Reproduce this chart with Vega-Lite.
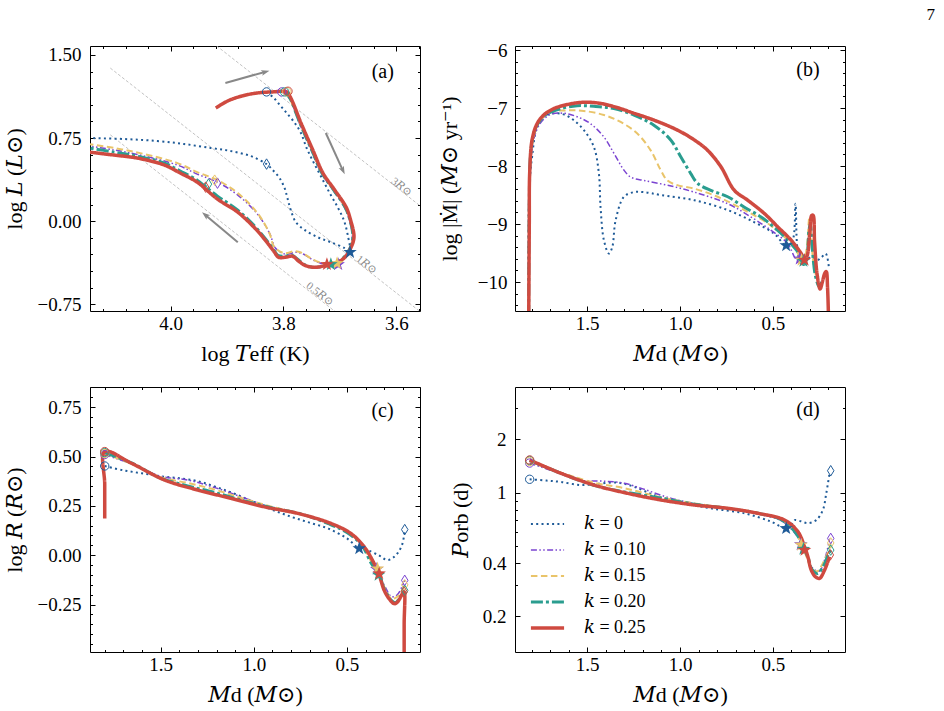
{
"$schema":"https://vega.github.io/schema/vega-lite/v6.json",
"background":"white",
"padding":{"left":2,"top":5,"right":5,"bottom":5},
"title":{"text":"7","anchor":"end","frame":"group","fontSize":17,"font":"Liberation Serif","fontWeight":"normal","color":"black","dx":845,"offset":17},
"columns":2,
"spacing":{"row":76,"column":95},
"bounds":"flush",
"resolve":{"scale":{"color":"independent","strokeDash":"independent","strokeWidth":"independent"},"legend":{"color":"independent","strokeDash":"independent","strokeWidth":"independent"}},
"datasets":{
"rad":[{"R":"3","i":0,"x":4.107,"y":2.335},{"R":"3","i":1,"x":3.55,"y":0.107},{"R":"1","i":0,"x":4.107,"y":1.381},{"R":"1","i":1,"x":3.55,"y":-0.847},{"R":"0.5","i":0,"x":4.107,"y":0.779},{"R":"0.5","i":1,"x":3.55,"y":-1.449}],
"radlab":[{"t":"3𝑅⊙","x":3.591,"y":0.307},{"t":"1𝑅⊙","x":3.653,"y":-0.395},{"t":"0.5𝑅⊙","x":3.736,"y":-0.66}],
"arrows":[{"x":3.903,"y":1.247,"x2":3.833,"y2":1.346,"ang":74},{"x":3.725,"y":0.795,"x2":3.695,"y2":0.461,"ang":155},{"x":3.881,"y":-0.19,"x2":3.938,"y2":0.054,"ang":310}],
"L":[
{"p":"a","k":"0","i":0,"x":3.830,"y":1.166},{"p":"a","k":"0","i":1,"x":3.817,"y":1.111},{"p":"a","k":"0","i":2,"x":3.805,"y":1.039},{"p":"a","k":"0","i":3,"x":3.793,"y":0.967},{"p":"a","k":"0","i":4,"x":3.780,"y":0.886},{"p":"a","k":"0","i":5,"x":3.769,"y":0.795},{"p":"a","k":"0","i":6,"x":3.759,"y":0.660},{"p":"a","k":"0","i":7,"x":3.746,"y":0.524},{"p":"a","k":"0","i":8,"x":3.732,"y":0.389},{"p":"a","k":"0","i":9,"x":3.718,"y":0.253},{"p":"a","k":"0","i":10,"x":3.704,"y":0.127},{"p":"a","k":"0","i":11,"x":3.693,"y":0.009},{"p":"a","k":"0","i":12,"x":3.686,"y":-0.127},{"p":"a","k":"0","i":13,"x":3.682,"y":-0.280},{"p":"a","k":"0","i":14,"x":3.691,"y":-0.244},{"p":"a","k":"0","i":15,"x":3.716,"y":-0.190},{"p":"a","k":"0","i":16,"x":3.739,"y":-0.145},{"p":"a","k":"0","i":17,"x":3.762,"y":-0.081},{"p":"a","k":"0","i":18,"x":3.778,"y":-0.009},{"p":"a","k":"0","i":19,"x":3.787,"y":0.099},{"p":"a","k":"0","i":20,"x":3.793,"y":0.208},{"p":"a","k":"0","i":21,"x":3.798,"y":0.298},{"p":"a","k":"0","i":22,"x":3.807,"y":0.389},{"p":"a","k":"0","i":23,"x":3.819,"y":0.461},{"p":"a","k":"0","i":24,"x":3.830,"y":0.515},{"p":"a","k":"0","i":25,"x":3.858,"y":0.587},{"p":"a","k":"0","i":26,"x":3.894,"y":0.633},{"p":"a","k":"0","i":27,"x":3.929,"y":0.660},{"p":"a","k":"0","i":28,"x":3.976,"y":0.696},{"p":"a","k":"0","i":29,"x":4.024,"y":0.723},{"p":"a","k":"0","i":30,"x":4.082,"y":0.741},{"p":"a","k":"0","i":31,"x":4.145,"y":0.750},
{"p":"a","k":"0.10","i":0,"x":3.803,"y":1.166},{"p":"a","k":"0.10","i":1,"x":3.790,"y":1.111},{"p":"a","k":"0.10","i":2,"x":3.772,"y":0.886},{"p":"a","k":"0.10","i":3,"x":3.751,"y":0.642},{"p":"a","k":"0.10","i":4,"x":3.733,"y":0.434},{"p":"a","k":"0.10","i":5,"x":3.712,"y":0.280},{"p":"a","k":"0.10","i":6,"x":3.692,"y":0.127},{"p":"a","k":"0.10","i":7,"x":3.683,"y":0.009},{"p":"a","k":"0.10","i":8,"x":3.678,"y":-0.145},{"p":"a","k":"0.10","i":9,"x":3.683,"y":-0.244},{"p":"a","k":"0.10","i":10,"x":3.694,"y":-0.334},{"p":"a","k":"0.10","i":11,"x":3.703,"y":-0.389},{"p":"a","k":"0.10","i":12,"x":3.718,"y":-0.389},{"p":"a","k":"0.10","i":13,"x":3.734,"y":-0.380},{"p":"a","k":"0.10","i":14,"x":3.750,"y":-0.343},{"p":"a","k":"0.10","i":15,"x":3.764,"y":-0.298},{"p":"a","k":"0.10","i":16,"x":3.778,"y":-0.280},{"p":"a","k":"0.10","i":17,"x":3.796,"y":-0.298},{"p":"a","k":"0.10","i":18,"x":3.814,"y":-0.244},{"p":"a","k":"0.10","i":19,"x":3.824,"y":-0.117},{"p":"a","k":"0.10","i":20,"x":3.846,"y":0.063},{"p":"a","k":"0.10","i":21,"x":3.881,"y":0.235},{"p":"a","k":"0.10","i":22,"x":3.917,"y":0.352},{"p":"a","k":"0.10","i":23,"x":3.953,"y":0.425},{"p":"a","k":"0.10","i":24,"x":3.988,"y":0.506},{"p":"a","k":"0.10","i":25,"x":4.054,"y":0.596},{"p":"a","k":"0.10","i":26,"x":4.100,"y":0.642},{"p":"a","k":"0.10","i":27,"x":4.145,"y":0.678},
{"p":"a","k":"0.15","i":0,"x":3.794,"y":1.166},{"p":"a","k":"0.15","i":1,"x":3.789,"y":1.111},{"p":"a","k":"0.15","i":2,"x":3.771,"y":0.886},{"p":"a","k":"0.15","i":3,"x":3.750,"y":0.642},{"p":"a","k":"0.15","i":4,"x":3.732,"y":0.434},{"p":"a","k":"0.15","i":5,"x":3.711,"y":0.280},{"p":"a","k":"0.15","i":6,"x":3.691,"y":0.127},{"p":"a","k":"0.15","i":7,"x":3.682,"y":0.009},{"p":"a","k":"0.15","i":8,"x":3.677,"y":-0.145},{"p":"a","k":"0.15","i":9,"x":3.682,"y":-0.244},{"p":"a","k":"0.15","i":10,"x":3.693,"y":-0.325},{"p":"a","k":"0.15","i":11,"x":3.705,"y":-0.380},{"p":"a","k":"0.15","i":12,"x":3.720,"y":-0.380},{"p":"a","k":"0.15","i":13,"x":3.736,"y":-0.370},{"p":"a","k":"0.15","i":14,"x":3.752,"y":-0.334},{"p":"a","k":"0.15","i":15,"x":3.766,"y":-0.289},{"p":"a","k":"0.15","i":16,"x":3.780,"y":-0.271},{"p":"a","k":"0.15","i":17,"x":3.798,"y":-0.289},{"p":"a","k":"0.15","i":18,"x":3.816,"y":-0.235},{"p":"a","k":"0.15","i":19,"x":3.825,"y":-0.108},{"p":"a","k":"0.15","i":20,"x":3.846,"y":0.072},{"p":"a","k":"0.15","i":21,"x":3.881,"y":0.253},{"p":"a","k":"0.15","i":22,"x":3.917,"y":0.370},{"p":"a","k":"0.15","i":23,"x":3.953,"y":0.443},{"p":"a","k":"0.15","i":24,"x":3.988,"y":0.524},{"p":"a","k":"0.15","i":25,"x":4.054,"y":0.614},{"p":"a","k":"0.15","i":26,"x":4.100,"y":0.660},{"p":"a","k":"0.15","i":27,"x":4.145,"y":0.696},
{"p":"a","k":"0.20","i":0,"x":3.798,"y":1.166},{"p":"a","k":"0.20","i":1,"x":3.789,"y":1.111},{"p":"a","k":"0.20","i":2,"x":3.771,"y":0.886},{"p":"a","k":"0.20","i":3,"x":3.750,"y":0.642},{"p":"a","k":"0.20","i":4,"x":3.732,"y":0.434},{"p":"a","k":"0.20","i":5,"x":3.711,"y":0.280},{"p":"a","k":"0.20","i":6,"x":3.691,"y":0.127},{"p":"a","k":"0.20","i":7,"x":3.682,"y":0.009},{"p":"a","k":"0.20","i":8,"x":3.677,"y":-0.145},{"p":"a","k":"0.20","i":9,"x":3.682,"y":-0.244},{"p":"a","k":"0.20","i":10,"x":3.693,"y":-0.325},{"p":"a","k":"0.20","i":11,"x":3.705,"y":-0.371},{"p":"a","k":"0.20","i":12,"x":3.716,"y":-0.389},{"p":"a","k":"0.20","i":13,"x":3.730,"y":-0.407},{"p":"a","k":"0.20","i":14,"x":3.748,"y":-0.416},{"p":"a","k":"0.20","i":15,"x":3.764,"y":-0.389},{"p":"a","k":"0.20","i":16,"x":3.775,"y":-0.343},{"p":"a","k":"0.20","i":17,"x":3.785,"y":-0.307},{"p":"a","k":"0.20","i":18,"x":3.798,"y":-0.316},{"p":"a","k":"0.20","i":19,"x":3.810,"y":-0.307},{"p":"a","k":"0.20","i":20,"x":3.817,"y":-0.262},{"p":"a","k":"0.20","i":21,"x":3.830,"y":-0.172},{"p":"a","k":"0.20","i":22,"x":3.851,"y":-0.045},{"p":"a","k":"0.20","i":23,"x":3.881,"y":0.099},{"p":"a","k":"0.20","i":24,"x":3.917,"y":0.226},{"p":"a","k":"0.20","i":25,"x":3.933,"y":0.289},{"p":"a","k":"0.20","i":26,"x":3.953,"y":0.370},{"p":"a","k":"0.20","i":27,"x":3.983,"y":0.452},{"p":"a","k":"0.20","i":28,"x":4.011,"y":0.524},{"p":"a","k":"0.20","i":29,"x":4.059,"y":0.587},{"p":"a","k":"0.20","i":30,"x":4.100,"y":0.623},{"p":"a","k":"0.20","i":31,"x":4.145,"y":0.660},
{"p":"a","k":"0.25","i":0,"x":3.920,"y":1.021},{"p":"a","k":"0.25","i":1,"x":3.899,"y":1.084},{"p":"a","k":"0.25","i":2,"x":3.873,"y":1.130},{"p":"a","k":"0.25","i":3,"x":3.846,"y":1.157},{"p":"a","k":"0.25","i":4,"x":3.819,"y":1.166},{"p":"a","k":"0.25","i":5,"x":3.794,"y":1.166},{"p":"a","k":"0.25","i":6,"x":3.787,"y":1.111},{"p":"a","k":"0.25","i":7,"x":3.769,"y":0.886},{"p":"a","k":"0.25","i":8,"x":3.748,"y":0.642},{"p":"a","k":"0.25","i":9,"x":3.730,"y":0.434},{"p":"a","k":"0.25","i":10,"x":3.709,"y":0.280},{"p":"a","k":"0.25","i":11,"x":3.689,"y":0.127},{"p":"a","k":"0.25","i":12,"x":3.681,"y":0.009},{"p":"a","k":"0.25","i":13,"x":3.675,"y":-0.145},{"p":"a","k":"0.25","i":14,"x":3.681,"y":-0.244},{"p":"a","k":"0.25","i":15,"x":3.691,"y":-0.325},{"p":"a","k":"0.25","i":16,"x":3.707,"y":-0.380},{"p":"a","k":"0.25","i":17,"x":3.723,"y":-0.398},{"p":"a","k":"0.25","i":18,"x":3.745,"y":-0.416},{"p":"a","k":"0.25","i":19,"x":3.762,"y":-0.398},{"p":"a","k":"0.25","i":20,"x":3.773,"y":-0.361},{"p":"a","k":"0.25","i":21,"x":3.784,"y":-0.316},{"p":"a","k":"0.25","i":22,"x":3.796,"y":-0.325},{"p":"a","k":"0.25","i":23,"x":3.809,"y":-0.325},{"p":"a","k":"0.25","i":24,"x":3.816,"y":-0.280},{"p":"a","k":"0.25","i":25,"x":3.828,"y":-0.199},{"p":"a","k":"0.25","i":26,"x":3.849,"y":-0.072},{"p":"a","k":"0.25","i":27,"x":3.881,"y":0.081},{"p":"a","k":"0.25","i":28,"x":3.917,"y":0.199},{"p":"a","k":"0.25","i":29,"x":3.953,"y":0.352},{"p":"a","k":"0.25","i":30,"x":3.983,"y":0.434},{"p":"a","k":"0.25","i":31,"x":4.011,"y":0.506},{"p":"a","k":"0.25","i":32,"x":4.059,"y":0.569},{"p":"a","k":"0.25","i":33,"x":4.100,"y":0.596},{"p":"a","k":"0.25","i":34,"x":4.145,"y":0.623},
{"p":"b","k":"0","i":0,"x":1.815,"y":-10.6},{"p":"b","k":"0","i":1,"x":1.812,"y":-8.4},{"p":"b","k":"0","i":2,"x":1.797,"y":-7.84},{"p":"b","k":"0","i":3,"x":1.770,"y":-7.32},{"p":"b","k":"0","i":4,"x":1.734,"y":-7.15},{"p":"b","k":"0","i":5,"x":1.680,"y":-7.09},{"p":"b","k":"0","i":6,"x":1.626,"y":-7.11},{"p":"b","k":"0","i":7,"x":1.572,"y":-7.21},{"p":"b","k":"0","i":8,"x":1.518,"y":-7.38},{"p":"b","k":"0","i":9,"x":1.464,"y":-7.67},{"p":"b","k":"0","i":10,"x":1.437,"y":-8.13},{"p":"b","k":"0","i":11,"x":1.428,"y":-8.71},{"p":"b","k":"0","i":12,"x":1.410,"y":-9.28},{"p":"b","k":"0","i":13,"x":1.383,"y":-9.51},{"p":"b","k":"0","i":14,"x":1.365,"y":-9.40},{"p":"b","k":"0","i":15,"x":1.347,"y":-8.94},{"p":"b","k":"0","i":16,"x":1.302,"y":-8.53},{"p":"b","k":"0","i":17,"x":1.248,"y":-8.45},{"p":"b","k":"0","i":18,"x":1.194,"y":-8.45},{"p":"b","k":"0","i":19,"x":1.104,"y":-8.50},{"p":"b","k":"0","i":20,"x":0.923,"y":-8.59},{"p":"b","k":"0","i":21,"x":0.743,"y":-8.76},{"p":"b","k":"0","i":22,"x":0.599,"y":-8.97},{"p":"b","k":"0","i":23,"x":0.491,"y":-9.17},{"p":"b","k":"0","i":24,"x":0.428,"y":-9.37},{"p":"b","k":"0","i":25,"x":0.395,"y":-9.30},{"p":"b","k":"0","i":26,"x":0.378,"y":-8.65},{"p":"b","k":"0","i":27,"x":0.368,"y":-9.40},{"p":"b","k":"0","i":28,"x":0.350,"y":-9.65},{"p":"b","k":"0","i":29,"x":0.320,"y":-9.62},{"p":"b","k":"0","i":30,"x":0.293,"y":-9.57},{"p":"b","k":"0","i":31,"x":0.260,"y":-9.62},{"p":"b","k":"0","i":32,"x":0.239,"y":-9.58},{"p":"b","k":"0","i":33,"x":0.215,"y":-9.51},{"p":"b","k":"0","i":34,"x":0.198,"y":-9.74},
{"p":"b","k":"0.10","i":0,"x":1.815,"y":-10.6},{"p":"b","k":"0.10","i":1,"x":1.812,"y":-8.9},{"p":"b","k":"0.10","i":2,"x":1.805,"y":-8.0},{"p":"b","k":"0.10","i":3,"x":1.785,"y":-7.5},{"p":"b","k":"0.10","i":4,"x":1.75,"y":-7.25},{"p":"b","k":"0.10","i":5,"x":1.698,"y":-7.11},{"p":"b","k":"0.10","i":6,"x":1.626,"y":-7.09},{"p":"b","k":"0.10","i":7,"x":1.554,"y":-7.15},{"p":"b","k":"0.10","i":8,"x":1.482,"y":-7.27},{"p":"b","k":"0.10","i":9,"x":1.41,"y":-7.50},{"p":"b","k":"0.10","i":10,"x":1.356,"y":-7.78},{"p":"b","k":"0.10","i":11,"x":1.302,"y":-8.07},{"p":"b","k":"0.10","i":12,"x":1.266,"y":-8.19},{"p":"b","k":"0.10","i":13,"x":1.194,"y":-8.25},{"p":"b","k":"0.10","i":14,"x":1.068,"y":-8.33},{"p":"b","k":"0.10","i":15,"x":0.923,"y":-8.45},{"p":"b","k":"0.10","i":16,"x":0.743,"y":-8.65},{"p":"b","k":"0.10","i":17,"x":0.617,"y":-8.88},{"p":"b","k":"0.10","i":18,"x":0.509,"y":-9.11},{"p":"b","k":"0.10","i":19,"x":0.419,"y":-9.34},{"p":"b","k":"0.10","i":20,"x":0.383,"y":-9.57},{"p":"b","k":"0.10","i":21,"x":0.365,"y":-9.63},{"p":"b","k":"0.10","i":22,"x":0.345,"y":-9.68},{"p":"b","k":"0.10","i":23,"x":0.33,"y":-9.62},
{"p":"b","k":"0.15","i":0,"x":1.815,"y":-10.6},{"p":"b","k":"0.15","i":1,"x":1.812,"y":-8.8},{"p":"b","k":"0.15","i":2,"x":1.805,"y":-7.9},{"p":"b","k":"0.15","i":3,"x":1.785,"y":-7.45},{"p":"b","k":"0.15","i":4,"x":1.75,"y":-7.2},{"p":"b","k":"0.15","i":5,"x":1.698,"y":-7.07},{"p":"b","k":"0.15","i":6,"x":1.608,"y":-7.04},{"p":"b","k":"0.15","i":7,"x":1.518,"y":-7.05},{"p":"b","k":"0.15","i":8,"x":1.41,"y":-7.12},{"p":"b","k":"0.15","i":9,"x":1.32,"y":-7.24},{"p":"b","k":"0.15","i":10,"x":1.23,"y":-7.44},{"p":"b","k":"0.15","i":11,"x":1.158,"y":-7.73},{"p":"b","k":"0.15","i":12,"x":1.104,"y":-8.07},{"p":"b","k":"0.15","i":13,"x":1.068,"y":-8.25},{"p":"b","k":"0.15","i":14,"x":1.014,"y":-8.33},{"p":"b","k":"0.15","i":15,"x":0.923,"y":-8.39},{"p":"b","k":"0.15","i":16,"x":0.797,"y":-8.53},{"p":"b","k":"0.15","i":17,"x":0.653,"y":-8.76},{"p":"b","k":"0.15","i":18,"x":0.527,"y":-8.99},{"p":"b","k":"0.15","i":19,"x":0.419,"y":-9.28},{"p":"b","k":"0.15","i":20,"x":0.365,"y":-9.51},{"p":"b","k":"0.15","i":21,"x":0.345,"y":-9.65},{"p":"b","k":"0.15","i":22,"x":0.33,"y":-9.62},{"p":"b","k":"0.15","i":23,"x":0.315,"y":-9.35},{"p":"b","k":"0.15","i":24,"x":0.303,"y":-8.88},{"p":"b","k":"0.15","i":25,"x":0.294,"y":-9.2},{"p":"b","k":"0.15","i":26,"x":0.28,"y":-9.7},{"p":"b","k":"0.15","i":27,"x":0.262,"y":-9.95},
{"p":"b","k":"0.20","i":0,"x":1.815,"y":-10.6},{"p":"b","k":"0.20","i":1,"x":1.812,"y":-8.6},{"p":"b","k":"0.20","i":2,"x":1.805,"y":-7.8},{"p":"b","k":"0.20","i":3,"x":1.785,"y":-7.4},{"p":"b","k":"0.20","i":4,"x":1.75,"y":-7.2},{"p":"b","k":"0.20","i":5,"x":1.716,"y":-7.10},{"p":"b","k":"0.20","i":6,"x":1.644,"y":-7.01},{"p":"b","k":"0.20","i":7,"x":1.554,"y":-6.96},{"p":"b","k":"0.20","i":8,"x":1.464,"y":-6.97},{"p":"b","k":"0.20","i":9,"x":1.356,"y":-7.01},{"p":"b","k":"0.20","i":10,"x":1.248,"y":-7.12},{"p":"b","k":"0.20","i":11,"x":1.139,"y":-7.30},{"p":"b","k":"0.20","i":12,"x":1.050,"y":-7.55},{"p":"b","k":"0.20","i":13,"x":0.996,"y":-7.84},{"p":"b","k":"0.20","i":14,"x":0.942,"y":-8.13},{"p":"b","k":"0.20","i":15,"x":0.905,"y":-8.30},{"p":"b","k":"0.20","i":16,"x":0.834,"y":-8.42},{"p":"b","k":"0.20","i":17,"x":0.743,"y":-8.53},{"p":"b","k":"0.20","i":18,"x":0.653,"y":-8.71},{"p":"b","k":"0.20","i":19,"x":0.563,"y":-8.88},{"p":"b","k":"0.20","i":20,"x":0.473,"y":-9.11},{"p":"b","k":"0.20","i":21,"x":0.401,"y":-9.34},{"p":"b","k":"0.20","i":22,"x":0.347,"y":-9.57},{"p":"b","k":"0.20","i":23,"x":0.335,"y":-9.7},{"p":"b","k":"0.20","i":24,"x":0.318,"y":-9.6},{"p":"b","k":"0.20","i":25,"x":0.305,"y":-9.1},{"p":"b","k":"0.20","i":26,"x":0.298,"y":-9.0},{"p":"b","k":"0.20","i":27,"x":0.288,"y":-9.4},{"p":"b","k":"0.20","i":28,"x":0.27,"y":-9.9},{"p":"b","k":"0.20","i":29,"x":0.25,"y":-10.08},{"p":"b","k":"0.20","i":30,"x":0.238,"y":-10.0},
{"p":"b","k":"0.25","i":0,"x":1.815,"y":-10.6},{"p":"b","k":"0.25","i":1,"x":1.812,"y":-9.0},{"p":"b","k":"0.25","i":2,"x":1.810,"y":-8.13},{"p":"b","k":"0.25","i":3,"x":1.797,"y":-7.55},{"p":"b","k":"0.25","i":4,"x":1.770,"y":-7.27},{"p":"b","k":"0.25","i":5,"x":1.734,"y":-7.12},{"p":"b","k":"0.25","i":6,"x":1.680,"y":-7.01},{"p":"b","k":"0.25","i":7,"x":1.608,"y":-6.94},{"p":"b","k":"0.25","i":8,"x":1.518,"y":-6.90},{"p":"b","k":"0.25","i":9,"x":1.428,"y":-6.92},{"p":"b","k":"0.25","i":10,"x":1.320,"y":-7.01},{"p":"b","k":"0.25","i":11,"x":1.266,"y":-7.07},{"p":"b","k":"0.25","i":12,"x":1.139,"y":-7.21},{"p":"b","k":"0.25","i":13,"x":1.014,"y":-7.38},{"p":"b","k":"0.25","i":14,"x":0.923,"y":-7.55},{"p":"b","k":"0.25","i":15,"x":0.851,"y":-7.73},{"p":"b","k":"0.25","i":16,"x":0.780,"y":-8.01},{"p":"b","k":"0.25","i":17,"x":0.707,"y":-8.42},{"p":"b","k":"0.25","i":18,"x":0.635,"y":-8.59},{"p":"b","k":"0.25","i":19,"x":0.545,"y":-8.82},{"p":"b","k":"0.25","i":20,"x":0.473,"y":-9.05},{"p":"b","k":"0.25","i":21,"x":0.401,"y":-9.28},{"p":"b","k":"0.25","i":22,"x":0.347,"y":-9.51},{"p":"b","k":"0.25","i":23,"x":0.329,"y":-9.62},{"p":"b","k":"0.25","i":24,"x":0.315,"y":-9.55},{"p":"b","k":"0.25","i":25,"x":0.302,"y":-9.2},{"p":"b","k":"0.25","i":26,"x":0.290,"y":-8.85},{"p":"b","k":"0.25","i":27,"x":0.283,"y":-8.85},{"p":"b","k":"0.25","i":28,"x":0.275,"y":-9.3},{"p":"b","k":"0.25","i":29,"x":0.262,"y":-9.85},{"p":"b","k":"0.25","i":30,"x":0.245,"y":-10.12},{"p":"b","k":"0.25","i":31,"x":0.233,"y":-10.0},{"p":"b","k":"0.25","i":32,"x":0.220,"y":-9.85},{"p":"b","k":"0.25","i":33,"x":0.212,"y":-9.82},{"p":"b","k":"0.25","i":34,"x":0.205,"y":-10.1},{"p":"b","k":"0.25","i":35,"x":0.200,"y":-10.6},
{"p":"c","k":"0","i":0,"x":1.80,"y":0.452},{"p":"c","k":"0","i":1,"x":1.70,"y":0.43},{"p":"c","k":"0","i":2,"x":1.60,"y":0.415},{"p":"c","k":"0","i":3,"x":1.50,"y":0.40},{"p":"c","k":"0","i":4,"x":1.40,"y":0.39},{"p":"c","k":"0","i":5,"x":1.30,"y":0.375},{"p":"c","k":"0","i":6,"x":1.20,"y":0.345},{"p":"c","k":"0","i":7,"x":1.10,"y":0.31},{"p":"c","k":"0","i":8,"x":1.00,"y":0.27},{"p":"c","k":"0","i":9,"x":0.90,"y":0.23},{"p":"c","k":"0","i":10,"x":0.80,"y":0.195},{"p":"c","k":"0","i":11,"x":0.70,"y":0.165},{"p":"c","k":"0","i":12,"x":0.60,"y":0.135},{"p":"c","k":"0","i":13,"x":0.50,"y":0.085},{"p":"c","k":"0","i":14,"x":0.434,"y":0.034},{"p":"c","k":"0","i":15,"x":0.389,"y":0.025},{"p":"c","k":"0","i":16,"x":0.33,"y":0.0},{"p":"c","k":"0","i":17,"x":0.282,"y":-0.025},{"p":"c","k":"0","i":18,"x":0.25,"y":-0.01},{"p":"c","k":"0","i":19,"x":0.229,"y":0.009},{"p":"c","k":"0","i":20,"x":0.202,"y":0.059},{"p":"c","k":"0","i":21,"x":0.19,"y":0.13},
{"p":"c","k":"0.10","i":0,"x":1.80,"y":0.51},{"p":"c","k":"0.10","i":1,"x":1.65,"y":0.46},{"p":"c","k":"0.10","i":2,"x":1.50,"y":0.40},{"p":"c","k":"0.10","i":3,"x":1.35,"y":0.38},{"p":"c","k":"0.10","i":4,"x":1.20,"y":0.34},{"p":"c","k":"0.10","i":5,"x":1.05,"y":0.29},{"p":"c","k":"0.10","i":6,"x":0.90,"y":0.24},{"p":"c","k":"0.10","i":7,"x":0.75,"y":0.21},{"p":"c","k":"0.10","i":8,"x":0.60,"y":0.165},{"p":"c","k":"0.10","i":9,"x":0.50,"y":0.12},{"p":"c","k":"0.10","i":10,"x":0.42,"y":0.06},{"p":"c","k":"0.10","i":11,"x":0.37,"y":-0.02},{"p":"c","k":"0.10","i":12,"x":0.34,"y":-0.07},{"p":"c","k":"0.10","i":13,"x":0.30,"y":-0.15},{"p":"c","k":"0.10","i":14,"x":0.26,"y":-0.21},{"p":"c","k":"0.10","i":15,"x":0.23,"y":-0.20},{"p":"c","k":"0.10","i":16,"x":0.20,"y":-0.15},{"p":"c","k":"0.10","i":17,"x":0.19,"y":-0.127},
{"p":"c","k":"0.15","i":0,"x":1.80,"y":0.515},{"p":"c","k":"0.15","i":1,"x":1.65,"y":0.46},{"p":"c","k":"0.15","i":2,"x":1.50,"y":0.395},{"p":"c","k":"0.15","i":3,"x":1.35,"y":0.365},{"p":"c","k":"0.15","i":4,"x":1.20,"y":0.33},{"p":"c","k":"0.15","i":5,"x":1.05,"y":0.285},{"p":"c","k":"0.15","i":6,"x":0.90,"y":0.245},{"p":"c","k":"0.15","i":7,"x":0.75,"y":0.21},{"p":"c","k":"0.15","i":8,"x":0.60,"y":0.165},{"p":"c","k":"0.15","i":9,"x":0.50,"y":0.12},{"p":"c","k":"0.15","i":10,"x":0.42,"y":0.055},{"p":"c","k":"0.15","i":11,"x":0.37,"y":-0.03},{"p":"c","k":"0.15","i":12,"x":0.336,"y":-0.068},{"p":"c","k":"0.15","i":13,"x":0.30,"y":-0.16},{"p":"c","k":"0.15","i":14,"x":0.26,"y":-0.22},{"p":"c","k":"0.15","i":15,"x":0.23,"y":-0.21},{"p":"c","k":"0.15","i":16,"x":0.20,"y":-0.17},{"p":"c","k":"0.15","i":17,"x":0.19,"y":-0.145},
{"p":"c","k":"0.20","i":0,"x":1.80,"y":0.52},{"p":"c","k":"0.20","i":1,"x":1.65,"y":0.465},{"p":"c","k":"0.20","i":2,"x":1.50,"y":0.39},{"p":"c","k":"0.20","i":3,"x":1.35,"y":0.35},{"p":"c","k":"0.20","i":4,"x":1.20,"y":0.315},{"p":"c","k":"0.20","i":5,"x":1.05,"y":0.275},{"p":"c","k":"0.20","i":6,"x":0.90,"y":0.24},{"p":"c","k":"0.20","i":7,"x":0.75,"y":0.21},{"p":"c","k":"0.20","i":8,"x":0.60,"y":0.16},{"p":"c","k":"0.20","i":9,"x":0.50,"y":0.115},{"p":"c","k":"0.20","i":10,"x":0.42,"y":0.05},{"p":"c","k":"0.20","i":11,"x":0.37,"y":-0.04},{"p":"c","k":"0.20","i":12,"x":0.327,"y":-0.10},{"p":"c","k":"0.20","i":13,"x":0.30,"y":-0.17},{"p":"c","k":"0.20","i":14,"x":0.26,"y":-0.23},{"p":"c","k":"0.20","i":15,"x":0.24,"y":-0.24},{"p":"c","k":"0.20","i":16,"x":0.22,"y":-0.22},{"p":"c","k":"0.20","i":17,"x":0.20,"y":-0.19},{"p":"c","k":"0.20","i":18,"x":0.19,"y":-0.178},
{"p":"c","k":"0.25","i":0,"x":1.800,"y":0.186},{"p":"c","k":"0.25","i":1,"x":1.800,"y":0.36},{"p":"c","k":"0.25","i":2,"x":1.800,"y":0.525},{"p":"c","k":"0.25","i":3,"x":1.657,"y":0.466},{"p":"c","k":"0.25","i":4,"x":1.479,"y":0.381},{"p":"c","k":"0.25","i":5,"x":1.300,"y":0.330},{"p":"c","k":"0.25","i":6,"x":1.122,"y":0.288},{"p":"c","k":"0.25","i":7,"x":0.943,"y":0.245},{"p":"c","k":"0.25","i":8,"x":0.764,"y":0.212},{"p":"c","k":"0.25","i":9,"x":0.586,"y":0.161},{"p":"c","k":"0.25","i":10,"x":0.479,"y":0.110},{"p":"c","k":"0.25","i":11,"x":0.407,"y":0.042},{"p":"c","k":"0.25","i":12,"x":0.354,"y":-0.042},{"p":"c","k":"0.25","i":13,"x":0.327,"y":-0.10},{"p":"c","k":"0.25","i":14,"x":0.300,"y":-0.178},{"p":"c","k":"0.25","i":15,"x":0.27,"y":-0.225},{"p":"c","k":"0.25","i":16,"x":0.246,"y":-0.245},{"p":"c","k":"0.25","i":17,"x":0.229,"y":-0.237},{"p":"c","k":"0.25","i":18,"x":0.202,"y":-0.195},{"p":"c","k":"0.25","i":19,"x":0.193,"y":-0.186},{"p":"c","k":"0.25","i":20,"x":0.193,"y":-0.35},{"p":"c","k":"0.25","i":21,"x":0.193,"y":-0.6},
{"p":"d","k":"0","i":0,"x":1.81,"y":1.19},{"p":"d","k":"0","i":1,"x":1.72,"y":1.17},{"p":"d","k":"0","i":2,"x":1.644,"y":1.15},{"p":"d","k":"0","i":3,"x":1.536,"y":1.105},{"p":"d","k":"0","i":4,"x":1.45,"y":1.12},{"p":"d","k":"0","i":5,"x":1.338,"y":1.14},{"p":"d","k":"0","i":6,"x":1.248,"y":1.08},{"p":"d","k":"0","i":7,"x":1.139,"y":0.97},{"p":"d","k":"0","i":8,"x":1.014,"y":0.89},{"p":"d","k":"0","i":9,"x":0.834,"y":0.816},{"p":"d","k":"0","i":10,"x":0.653,"y":0.765},{"p":"d","k":"0","i":11,"x":0.509,"y":0.686},{"p":"d","k":"0","i":12,"x":0.428,"y":0.629},{"p":"d","k":"0","i":13,"x":0.40,"y":0.66},{"p":"d","k":"0","i":14,"x":0.383,"y":0.70},{"p":"d","k":"0","i":15,"x":0.35,"y":0.69},{"p":"d","k":"0","i":16,"x":0.311,"y":0.672},{"p":"d","k":"0","i":17,"x":0.266,"y":0.70},{"p":"d","k":"0","i":18,"x":0.23,"y":0.80},{"p":"d","k":"0","i":19,"x":0.212,"y":0.99},{"p":"d","k":"0","i":20,"x":0.194,"y":1.29},
{"p":"d","k":"0.10","i":0,"x":1.81,"y":1.47},{"p":"d","k":"0.10","i":1,"x":1.644,"y":1.28},{"p":"d","k":"0.10","i":2,"x":1.55,"y":1.18},{"p":"d","k":"0.10","i":3,"x":1.40,"y":1.16},{"p":"d","k":"0.10","i":4,"x":1.30,"y":1.13},{"p":"d","k":"0.10","i":5,"x":1.20,"y":1.05},{"p":"d","k":"0.10","i":6,"x":1.05,"y":0.93},{"p":"d","k":"0.10","i":7,"x":0.90,"y":0.86},{"p":"d","k":"0.10","i":8,"x":0.743,"y":0.81},{"p":"d","k":"0.10","i":9,"x":0.58,"y":0.76},{"p":"d","k":"0.10","i":10,"x":0.45,"y":0.69},{"p":"d","k":"0.10","i":11,"x":0.37,"y":0.57},{"p":"d","k":"0.10","i":12,"x":0.345,"y":0.51},{"p":"d","k":"0.10","i":13,"x":0.32,"y":0.44},{"p":"d","k":"0.10","i":14,"x":0.29,"y":0.38},{"p":"d","k":"0.10","i":15,"x":0.25,"y":0.36},{"p":"d","k":"0.10","i":16,"x":0.22,"y":0.42},{"p":"d","k":"0.10","i":17,"x":0.194,"y":0.55},
{"p":"d","k":"0.15","i":0,"x":1.81,"y":1.50},{"p":"d","k":"0.15","i":1,"x":1.644,"y":1.30},{"p":"d","k":"0.15","i":2,"x":1.464,"y":1.14},{"p":"d","k":"0.15","i":3,"x":1.30,"y":1.06},{"p":"d","k":"0.15","i":4,"x":1.10,"y":0.94},{"p":"d","k":"0.15","i":5,"x":0.923,"y":0.87},{"p":"d","k":"0.15","i":6,"x":0.743,"y":0.82},{"p":"d","k":"0.15","i":7,"x":0.58,"y":0.77},{"p":"d","k":"0.15","i":8,"x":0.45,"y":0.70},{"p":"d","k":"0.15","i":9,"x":0.37,"y":0.58},{"p":"d","k":"0.15","i":10,"x":0.347,"y":0.507},{"p":"d","k":"0.15","i":11,"x":0.32,"y":0.44},{"p":"d","k":"0.15","i":12,"x":0.29,"y":0.37},{"p":"d","k":"0.15","i":13,"x":0.26,"y":0.36},{"p":"d","k":"0.15","i":14,"x":0.23,"y":0.40},{"p":"d","k":"0.15","i":15,"x":0.20,"y":0.47},{"p":"d","k":"0.15","i":16,"x":0.188,"y":0.52},
{"p":"d","k":"0.20","i":0,"x":1.81,"y":1.52},{"p":"d","k":"0.20","i":1,"x":1.644,"y":1.29},{"p":"d","k":"0.20","i":2,"x":1.464,"y":1.10},{"p":"d","k":"0.20","i":3,"x":1.30,"y":1.01},{"p":"d","k":"0.20","i":4,"x":1.10,"y":0.93},{"p":"d","k":"0.20","i":5,"x":0.923,"y":0.86},{"p":"d","k":"0.20","i":6,"x":0.743,"y":0.815},{"p":"d","k":"0.20","i":7,"x":0.58,"y":0.765},{"p":"d","k":"0.20","i":8,"x":0.45,"y":0.70},{"p":"d","k":"0.20","i":9,"x":0.37,"y":0.58},{"p":"d","k":"0.20","i":10,"x":0.335,"y":0.49},{"p":"d","k":"0.20","i":11,"x":0.31,"y":0.43},{"p":"d","k":"0.20","i":12,"x":0.29,"y":0.37},{"p":"d","k":"0.20","i":13,"x":0.26,"y":0.35},{"p":"d","k":"0.20","i":14,"x":0.23,"y":0.38},{"p":"d","k":"0.20","i":15,"x":0.20,"y":0.45},{"p":"d","k":"0.20","i":16,"x":0.188,"y":0.474},
{"p":"d","k":"0.25","i":0,"x":1.81,"y":1.53},{"p":"d","k":"0.25","i":1,"x":1.644,"y":1.29},{"p":"d","k":"0.25","i":2,"x":1.464,"y":1.105},{"p":"d","k":"0.25","i":3,"x":1.284,"y":0.992},{"p":"d","k":"0.25","i":4,"x":1.104,"y":0.910},{"p":"d","k":"0.25","i":5,"x":0.923,"y":0.852},{"p":"d","k":"0.25","i":6,"x":0.743,"y":0.816},{"p":"d","k":"0.25","i":7,"x":0.581,"y":0.765},{"p":"d","k":"0.25","i":8,"x":0.437,"y":0.701},{"p":"d","k":"0.25","i":9,"x":0.365,"y":0.603},{"p":"d","k":"0.25","i":10,"x":0.329,"y":0.495},{"p":"d","k":"0.25","i":11,"x":0.311,"y":0.435},{"p":"d","k":"0.25","i":12,"x":0.293,"y":0.366},{"p":"d","k":"0.25","i":13,"x":0.27,"y":0.335},{"p":"d","k":"0.25","i":14,"x":0.248,"y":0.328},{"p":"d","k":"0.25","i":15,"x":0.221,"y":0.366},{"p":"d","k":"0.25","i":16,"x":0.194,"y":0.435}
],
"M":[
{"p":"a","m":"c","k":"0","x":3.830,"y":1.166},{"p":"a","m":"c","k":"0.10","x":3.803,"y":1.166},{"p":"a","m":"c","k":"0.15","x":3.794,"y":1.166},{"p":"a","m":"c","k":"0.20","x":3.798,"y":1.166},{"p":"a","m":"c","k":"0.25","x":3.792,"y":1.172},
{"p":"a","m":"d","k":"0","x":3.830,"y":0.515},{"p":"a","m":"d","k":"0.10","x":3.917,"y":0.343},{"p":"a","m":"d","k":"0.15","x":3.922,"y":0.370},{"p":"a","m":"d","k":"0.20","x":3.933,"y":0.334},{"p":"a","m":"d","k":"0.25","x":3.938,"y":0.307},
{"p":"a","m":"s","k":"0","x":3.682,"y":-0.280},{"p":"a","m":"s","k":"0.10","x":3.703,"y":-0.389},{"p":"a","m":"s","k":"0.15","x":3.705,"y":-0.380},{"p":"a","m":"s","k":"0.20","x":3.716,"y":-0.389},{"p":"a","m":"s","k":"0.25","x":3.723,"y":-0.389},
{"p":"b","m":"s","k":"0","x":0.428,"y":-9.37},{"p":"b","m":"s","k":"0.10","x":0.355,"y":-9.60},{"p":"b","m":"s","k":"0.15","x":0.345,"y":-9.62},{"p":"b","m":"s","k":"0.20","x":0.335,"y":-9.64},{"p":"b","m":"s","k":"0.25","x":0.329,"y":-9.62},
{"p":"c","m":"c","k":"0","x":1.80,"y":0.452},{"p":"c","m":"c","k":"0.10","x":1.80,"y":0.51},{"p":"c","m":"c","k":"0.15","x":1.80,"y":0.515},{"p":"c","m":"c","k":"0.20","x":1.80,"y":0.52},{"p":"c","m":"c","k":"0.25","x":1.80,"y":0.525},
{"p":"c","m":"d","k":"0","x":0.19,"y":0.13},{"p":"c","m":"d","k":"0.10","x":0.19,"y":-0.127},{"p":"c","m":"d","k":"0.15","x":0.19,"y":-0.15},{"p":"c","m":"d","k":"0.20","x":0.19,"y":-0.178},{"p":"c","m":"d","k":"0.25","x":0.193,"y":-0.186},
{"p":"c","m":"s","k":"0","x":0.434,"y":0.034},{"p":"c","m":"s","k":"0.10","x":0.34,"y":-0.07},{"p":"c","m":"s","k":"0.15","x":0.336,"y":-0.068},{"p":"c","m":"s","k":"0.20","x":0.33,"y":-0.10},{"p":"c","m":"s","k":"0.25","x":0.327,"y":-0.093},
{"p":"d","m":"c","k":"0","x":1.81,"y":1.19},{"p":"d","m":"c","k":"0.10","x":1.81,"y":1.47},{"p":"d","m":"c","k":"0.15","x":1.81,"y":1.50},{"p":"d","m":"c","k":"0.20","x":1.81,"y":1.52},{"p":"d","m":"c","k":"0.25","x":1.81,"y":1.53},
{"p":"d","m":"d","k":"0","x":0.188,"y":1.33},{"p":"d","m":"d","k":"0.10","x":0.188,"y":0.552},{"p":"d","m":"d","k":"0.15","x":0.188,"y":0.52},{"p":"d","m":"d","k":"0.20","x":0.188,"y":0.474},{"p":"d","m":"d","k":"0.25","x":0.19,"y":0.445},
{"p":"d","m":"s","k":"0","x":0.428,"y":0.629},{"p":"d","m":"s","k":"0.10","x":0.35,"y":0.51},{"p":"d","m":"s","k":"0.15","x":0.347,"y":0.507},{"p":"d","m":"s","k":"0.20","x":0.335,"y":0.48},{"p":"d","m":"s","k":"0.25","x":0.329,"y":0.474}
]
},
"concat":[
{
"width":330,"height":265,
"resolve":{"axis":{"x":"independent","y":"independent"}},
"layer":[
{"data":{"name":"rad"},"mark":{"type":"line","stroke":"#b3b3b3","strokeWidth":0.8,"strokeDash":[3,2],"clip":true},
"encoding":{"x":{"field":"x","type":"quantitative","scale":{"domain":[3.558,4.143],"reverse":true,"nice":false,"zero":false},"axis":{"orient":"bottom","values":[3.6,3.8,4.0],"format":".1f","tickSize":-5,"labelPadding":8,"title":"log 𝑇eff (K)","titlePadding":10}},
"y":{"field":"y","type":"quantitative","scale":{"domain":[-0.81,1.58],"nice":false,"zero":false},"axis":{"orient":"left","values":[-0.75,0,0.75,1.5],"format":".2f","tickSize":-5,"labelPadding":14,"title":"log 𝐿 (𝐿⊙)","titlePadding":11}},
"detail":{"field":"R"},"order":{"field":"i","type":"quantitative"}}},
{"data":{"name":"radlab"},"mark":{"type":"text","angle":38,"fontSize":11,"color":"#888888","font":"Liberation Serif, DejaVu Serif","baseline":"middle","align":"center"},
"encoding":{"x":{"field":"x","type":"quantitative","scale":{"domain":[3.558,4.143],"reverse":true,"nice":false,"zero":false},"axis":{"orient":"bottom","values":[3.56,3.6,3.64,3.68,3.72,3.76,3.8,3.84,3.88,3.92,3.96,4.0,4.04,4.08,4.12],"labels":false,"tickSize":-2.5,"title":null}},
"y":{"field":"y","type":"quantitative","scale":{"domain":[-0.81,1.58],"nice":false,"zero":false},"axis":{"orient":"left","values":[-0.75,-0.6,-0.45,-0.3,-0.15,0,0.15,0.3,0.45,0.6,0.75,0.9,1.05,1.2,1.35,1.5],"labels":false,"tickSize":-2.5,"title":null}},
"text":{"field":"t"}}},
{"data":{"name":"arrows"},"mark":{"type":"rule","color":"#888888","strokeWidth":2},
"encoding":{"x":{"field":"x","type":"quantitative","scale":{"domain":[3.558,4.143],"reverse":true,"nice":false,"zero":false},"axis":{"orient":"top","values":[3.6,3.8,4.0],"labels":false,"tickSize":-5,"title":null}},
"y":{"field":"y","type":"quantitative","scale":{"domain":[-0.81,1.58],"nice":false,"zero":false},"axis":{"orient":"right","values":[-0.75,0,0.75,1.5],"labels":false,"tickSize":-5,"title":null}},
"x2":{"field":"x2"},"y2":{"field":"y2"}}},
{"data":{"name":"arrows"},"mark":{"type":"point","shape":"M0,-1L0.6,0.75L0,0.35L-0.6,0.75Z","filled":true,"color":"#888888","size":90,"opacity":1},
"encoding":{"x":{"field":"x2","type":"quantitative","scale":{"domain":[3.558,4.143],"reverse":true,"nice":false,"zero":false},"axis":{"orient":"top","values":[3.56,3.6,3.64,3.68,3.72,3.76,3.8,3.84,3.88,3.92,3.96,4.0,4.04,4.08,4.12],"labels":false,"tickSize":-2.5,"title":null}},
"y":{"field":"y2","type":"quantitative","scale":{"domain":[-0.81,1.58],"nice":false,"zero":false},"axis":{"orient":"right","values":[-0.75,-0.6,-0.45,-0.3,-0.15,0,0.15,0.3,0.45,0.6,0.75,0.9,1.05,1.2,1.35,1.5],"labels":false,"tickSize":-2.5,"title":null}},
"angle":{"field":"ang","type":"quantitative","scale":null}}},
{"data":{"name":"L"},"transform":[{"filter":"datum.p=='a'"}],"mark":{"type":"line","interpolate":"catmull-rom","clip":true},
"encoding":{"x":{"field":"x","type":"quantitative","scale":{"domain":[3.558,4.143],"reverse":true,"nice":false,"zero":false},"axis":null},
"y":{"field":"y","type":"quantitative","scale":{"domain":[-0.81,1.58],"nice":false,"zero":false},"axis":null},
"color":{"field":"k","type":"ordinal","scale":{"domain":["0","0.10","0.15","0.20","0.25"],"range":["#1f5b98","#7b44d1","#e9c46a","#2a9d8f","#cf4a40"]},"legend":null},
"strokeDash":{"field":"k","type":"ordinal","scale":{"domain":["0","0.10","0.15","0.20","0.25"],"range":[[2,3.3],[6,2.4,1.5,2.4,1.5,2.4],[6.5,3.5],[12,3,3,3],[1,0]]},"legend":null},
"strokeWidth":{"field":"k","type":"ordinal","scale":{"type":"ordinal","domain":["0","0.10","0.15","0.20","0.25"],"range":[2,1.5,2,3,3.5]},"legend":null},
"order":{"field":"i","type":"quantitative"}}},
{"data":{"name":"M"},"transform":[{"filter":"datum.p=='a' && datum.m=='c'"}],"mark":{"type":"point","shape":"circle","filled":false,"size":70,"strokeWidth":1,"opacity":1},
"encoding":{"x":{"field":"x","type":"quantitative","scale":{"domain":[3.558,4.143],"reverse":true,"nice":false,"zero":false},"axis":null},"y":{"field":"y","type":"quantitative","scale":{"domain":[-0.81,1.58],"nice":false,"zero":false},"axis":null},
"color":{"field":"k","type":"ordinal","scale":{"domain":["0","0.10","0.15","0.20","0.25"],"range":["#1f5b98","#7b44d1","#e9c46a","#2a9d8f","#cf4a40"]},"legend":null}}},
{"data":{"name":"M"},"transform":[{"filter":"datum.p=='a' && datum.m=='d'"}],"mark":{"type":"point","shape":"M0,-1L0.62,0L0,1L-0.62,0Z","filled":false,"size":110,"strokeWidth":1,"opacity":1},
"encoding":{"x":{"field":"x","type":"quantitative","scale":{"domain":[3.558,4.143],"reverse":true,"nice":false,"zero":false},"axis":null},"y":{"field":"y","type":"quantitative","scale":{"domain":[-0.81,1.58],"nice":false,"zero":false},"axis":null},
"color":{"field":"k","type":"ordinal","scale":{"domain":["0","0.10","0.15","0.20","0.25"],"range":["#1f5b98","#7b44d1","#e9c46a","#2a9d8f","#cf4a40"]},"legend":null}}},
{"data":{"name":"M"},"transform":[{"filter":"datum.p=='a' && datum.m=='s'"}],"mark":{"type":"point","shape":"M0,-1L0.235,-0.324L0.951,-0.309L0.38,0.124L0.588,0.809L0,0.4L-0.588,0.809L-0.38,0.124L-0.951,-0.309L-0.235,-0.324Z","filled":true,"size":200,"opacity":1},
"encoding":{"x":{"field":"x","type":"quantitative","scale":{"domain":[3.558,4.143],"reverse":true,"nice":false,"zero":false},"axis":null},"y":{"field":"y","type":"quantitative","scale":{"domain":[-0.81,1.58],"nice":false,"zero":false},"axis":null},
"color":{"field":"k","type":"ordinal","scale":{"domain":["0","0.10","0.15","0.20","0.25"],"range":["#1f5b98","#7b44d1","#e9c46a","#2a9d8f","#cf4a40"]},"legend":null}}},
{"data":{"values":[{}]},"mark":{"type":"text","fontSize":20,"font":"Liberation Serif","align":"center","baseline":"middle"},
"encoding":{"x":{"datum":3.624,"type":"quantitative","scale":{"domain":[3.558,4.143],"reverse":true,"nice":false,"zero":false},"axis":null},"y":{"datum":1.346,"type":"quantitative","scale":{"domain":[-0.81,1.58],"nice":false,"zero":false},"axis":null},"text":{"value":"(a)"}}}
]
},
{
"width":330,"height":265,
"resolve":{"axis":{"x":"independent","y":"independent"}},
"layer":[
{"data":{"name":"L"},"transform":[{"filter":"datum.p=='b'"}],"mark":{"type":"line","interpolate":"catmull-rom","clip":true},
"encoding":{"x":{"field":"x","type":"quantitative","scale":{"domain":[0.111,1.889],"reverse":true,"nice":false,"zero":false},"axis":{"orient":"bottom","values":[0.5,1.0,1.5],"format":".1f","tickSize":-5,"labelPadding":8,"title":"𝑀d (𝑀⊙)","titlePadding":10}},
"y":{"field":"y","type":"quantitative","scale":{"domain":[-10.5,-5.93],"nice":false,"zero":false},"axis":{"orient":"left","values":[-10,-9,-8,-7,-6],"format":"d","tickSize":-5,"labelPadding":13,"title":"log |Ṁ| (𝑀⊙ yr⁻¹)","titlePadding":16}},
"color":{"field":"k","type":"ordinal","scale":{"domain":["0","0.10","0.15","0.20","0.25"],"range":["#1f5b98","#7b44d1","#e9c46a","#2a9d8f","#cf4a40"]},"legend":null},
"strokeDash":{"field":"k","type":"ordinal","scale":{"domain":["0","0.10","0.15","0.20","0.25"],"range":[[2,3.3],[6,2.4,1.5,2.4,1.5,2.4],[6.5,3.5],[12,3,3,3],[1,0]]},"legend":null},
"strokeWidth":{"field":"k","type":"ordinal","scale":{"type":"ordinal","domain":["0","0.10","0.15","0.20","0.25"],"range":[2,1.5,2,3,3.5]},"legend":null},
"order":{"field":"i","type":"quantitative"}}},
{"data":{"name":"M"},"transform":[{"filter":"datum.p=='b' && datum.m=='s'"}],"mark":{"type":"point","shape":"M0,-1L0.235,-0.324L0.951,-0.309L0.38,0.124L0.588,0.809L0,0.4L-0.588,0.809L-0.38,0.124L-0.951,-0.309L-0.235,-0.324Z","filled":true,"size":200,"opacity":1},
"encoding":{"x":{"field":"x","type":"quantitative","scale":{"domain":[0.111,1.889],"reverse":true,"nice":false,"zero":false},"axis":{"orient":"bottom","values":[0.2,0.3,0.4,0.5,0.6,0.7,0.8,0.9,1.0,1.1,1.2,1.3,1.4,1.5,1.6,1.7,1.8],"labels":false,"tickSize":-2.5,"title":null}},
"y":{"field":"y","type":"quantitative","scale":{"domain":[-10.5,-5.93],"nice":false,"zero":false},"axis":{"orient":"left","values":[-10.4,-10.2,-10.0,-9.8,-9.6,-9.4,-9.2,-9.0,-8.8,-8.6,-8.4,-8.2,-8.0,-7.8,-7.6,-7.4,-7.2,-7.0,-6.8,-6.6,-6.4,-6.2,-6.0],"labels":false,"tickSize":-2.5,"title":null}},
"color":{"field":"k","type":"ordinal","scale":{"domain":["0","0.10","0.15","0.20","0.25"],"range":["#1f5b98","#7b44d1","#e9c46a","#2a9d8f","#cf4a40"]},"legend":null}}},
{"data":{"values":[{}]},"mark":{"type":"text","fontSize":20,"font":"Liberation Serif","align":"center","baseline":"middle"},
"encoding":{"x":{"datum":0.311,"type":"quantitative","scale":{"domain":[0.111,1.889],"reverse":true,"nice":false,"zero":false},"axis":{"orient":"top","values":[0.5,1.0,1.5],"labels":false,"tickSize":-5,"title":null}},
"y":{"datum":-6.345,"type":"quantitative","scale":{"domain":[-10.5,-5.93],"nice":false,"zero":false},"axis":{"orient":"right","values":[-10,-9,-8,-7,-6],"labels":false,"tickSize":-5,"title":null}},"text":{"value":"(b)"}}},
{"data":{"name":"M"},"transform":[{"filter":"datum.p=='b' && datum.m=='s'"}],"mark":{"type":"point","opacity":0},
"encoding":{"x":{"field":"x","type":"quantitative","scale":{"domain":[0.111,1.889],"reverse":true,"nice":false,"zero":false},"axis":{"orient":"top","values":[0.2,0.3,0.4,0.5,0.6,0.7,0.8,0.9,1.0,1.1,1.2,1.3,1.4,1.5,1.6,1.7,1.8],"labels":false,"tickSize":-2.5,"title":null}},
"y":{"field":"y","type":"quantitative","scale":{"domain":[-10.5,-5.93],"nice":false,"zero":false},"axis":{"orient":"right","values":[-10.4,-10.2,-10.0,-9.8,-9.6,-9.4,-9.2,-9.0,-8.8,-8.6,-8.4,-8.2,-8.0,-7.8,-7.6,-7.4,-7.2,-7.0,-6.8,-6.6,-6.4,-6.2,-6.0],"labels":false,"tickSize":-2.5,"title":null}}}}
]
},
{
"width":330,"height":265,
"resolve":{"axis":{"x":"independent","y":"independent"}},
"layer":[
{"data":{"name":"L"},"transform":[{"filter":"datum.p=='c'"}],"mark":{"type":"line","interpolate":"catmull-rom","clip":true},
"encoding":{"x":{"field":"x","type":"quantitative","scale":{"domain":[0.108,1.879],"reverse":true,"nice":false,"zero":false},"axis":{"orient":"bottom","values":[0.5,1.0,1.5],"format":".1f","tickSize":-5,"labelPadding":8,"title":"𝑀d (𝑀⊙)","titlePadding":10}},
"y":{"field":"y","type":"quantitative","scale":{"domain":[-0.49,0.852],"nice":false,"zero":false},"axis":{"orient":"left","values":[-0.25,0,0.25,0.5,0.75],"format":".2f","tickSize":-5,"labelPadding":14,"title":"log 𝑅 (𝑅⊙)","titlePadding":11}},
"color":{"field":"k","type":"ordinal","scale":{"domain":["0","0.10","0.15","0.20","0.25"],"range":["#1f5b98","#7b44d1","#e9c46a","#2a9d8f","#cf4a40"]},"legend":null},
"strokeDash":{"field":"k","type":"ordinal","scale":{"domain":["0","0.10","0.15","0.20","0.25"],"range":[[2,3.3],[6,2.4,1.5,2.4,1.5,2.4],[6.5,3.5],[12,3,3,3],[1,0]]},"legend":null},
"strokeWidth":{"field":"k","type":"ordinal","scale":{"type":"ordinal","domain":["0","0.10","0.15","0.20","0.25"],"range":[2,1.5,2,3,3.5]},"legend":null},
"order":{"field":"i","type":"quantitative"}}},
{"data":{"name":"M"},"transform":[{"filter":"datum.p=='c' && datum.m=='s'"}],"mark":{"type":"point","shape":"M0,-1L0.235,-0.324L0.951,-0.309L0.38,0.124L0.588,0.809L0,0.4L-0.588,0.809L-0.38,0.124L-0.951,-0.309L-0.235,-0.324Z","filled":true,"size":200,"opacity":1},
"encoding":{"x":{"field":"x","type":"quantitative","scale":{"domain":[0.108,1.879],"reverse":true,"nice":false,"zero":false},"axis":{"orient":"bottom","values":[0.2,0.3,0.4,0.5,0.6,0.7,0.8,0.9,1.0,1.1,1.2,1.3,1.4,1.5,1.6,1.7,1.8],"labels":false,"tickSize":-2.5,"title":null}},
"y":{"field":"y","type":"quantitative","scale":{"domain":[-0.49,0.852],"nice":false,"zero":false},"axis":{"orient":"left","values":[-0.45,-0.4,-0.35,-0.3,-0.25,-0.2,-0.15,-0.1,-0.05,0,0.05,0.1,0.15,0.2,0.25,0.3,0.35,0.4,0.45,0.5,0.55,0.6,0.65,0.7,0.75,0.8,0.85],"labels":false,"tickSize":-2.5,"title":null}},
"color":{"field":"k","type":"ordinal","scale":{"domain":["0","0.10","0.15","0.20","0.25"],"range":["#1f5b98","#7b44d1","#e9c46a","#2a9d8f","#cf4a40"]},"legend":null}}},
{"data":{"name":"M"},"transform":[{"filter":"datum.p=='c' && datum.m=='c'"}],"mark":{"type":"point","shape":"circle","filled":false,"size":70,"strokeWidth":1,"opacity":1},
"encoding":{"x":{"field":"x","type":"quantitative","scale":{"domain":[0.108,1.879],"reverse":true,"nice":false,"zero":false},"axis":{"orient":"top","values":[0.5,1.0,1.5],"labels":false,"tickSize":-5,"title":null}},
"y":{"field":"y","type":"quantitative","scale":{"domain":[-0.49,0.852],"nice":false,"zero":false},"axis":{"orient":"right","values":[-0.25,0,0.25,0.5,0.75],"labels":false,"tickSize":-5,"title":null}},
"color":{"field":"k","type":"ordinal","scale":{"domain":["0","0.10","0.15","0.20","0.25"],"range":["#1f5b98","#7b44d1","#e9c46a","#2a9d8f","#cf4a40"]},"legend":null}}},
{"data":{"name":"M"},"transform":[{"filter":"datum.p=='c' && datum.m=='d'"}],"mark":{"type":"point","shape":"M0,-1L0.62,0L0,1L-0.62,0Z","filled":false,"size":110,"strokeWidth":1,"opacity":1},
"encoding":{"x":{"field":"x","type":"quantitative","scale":{"domain":[0.108,1.879],"reverse":true,"nice":false,"zero":false},"axis":{"orient":"top","values":[0.2,0.3,0.4,0.5,0.6,0.7,0.8,0.9,1.0,1.1,1.2,1.3,1.4,1.5,1.6,1.7,1.8],"labels":false,"tickSize":-2.5,"title":null}},
"y":{"field":"y","type":"quantitative","scale":{"domain":[-0.49,0.852],"nice":false,"zero":false},"axis":{"orient":"right","values":[-0.45,-0.4,-0.35,-0.3,-0.25,-0.2,-0.15,-0.1,-0.05,0,0.05,0.1,0.15,0.2,0.25,0.3,0.35,0.4,0.45,0.5,0.55,0.6,0.65,0.7,0.75,0.8,0.85],"labels":false,"tickSize":-2.5,"title":null}},
"color":{"field":"k","type":"ordinal","scale":{"domain":["0","0.10","0.15","0.20","0.25"],"range":["#1f5b98","#7b44d1","#e9c46a","#2a9d8f","#cf4a40"]},"legend":null}}},
{"data":{"values":[{}]},"mark":{"type":"text","fontSize":20,"font":"Liberation Serif","align":"center","baseline":"middle"},
"encoding":{"x":{"datum":0.309,"type":"quantitative","scale":{"domain":[0.108,1.879],"reverse":true,"nice":false,"zero":false},"axis":null},"y":{"datum":0.728,"type":"quantitative","scale":{"domain":[-0.49,0.852],"nice":false,"zero":false},"axis":null},"text":{"value":"(c)"}}}
]
},
{
"width":330,"height":265,
"resolve":{"axis":{"x":"independent","y":"independent"}},
"layer":[
{"data":{"name":"L"},"transform":[{"filter":"datum.p=='d'"}],"mark":{"type":"line","interpolate":"catmull-rom","clip":true},
"encoding":{"x":{"field":"x","type":"quantitative","scale":{"domain":[0.111,1.889],"reverse":true,"nice":false,"zero":false},"axis":{"orient":"bottom","values":[0.5,1.0,1.5],"format":".1f","tickSize":-5,"labelPadding":8,"title":"𝑀d (𝑀⊙)","titlePadding":10}},
"y":{"field":"y","type":"quantitative","scale":{"type":"log","domain":[0.126,3.95],"nice":false},"axis":{"orient":"left","values":[0.2,0.4,1,2],"format":"~g","tickSize":-5,"labelPadding":14,"title":"𝑃orb (d)","titlePadding":10}},
"color":{"field":"k","type":"ordinal","scale":{"domain":["0","0.10","0.15","0.20","0.25"],"range":["#1f5b98","#7b44d1","#e9c46a","#2a9d8f","#cf4a40"]},"legend":{"orient":"none","legendX":14,"legendY":126,"title":null,"symbolType":"stroke","symbolSize":1100,"clipHeight":22,"labelFontSize":18,"labelFont":"Liberation Serif, DejaVu Serif","labelExpr":"'𝑘 = ' + datum.label","rowPadding":4,"labelOffset":18,"padding":0}},
"strokeDash":{"field":"k","type":"ordinal","scale":{"domain":["0","0.10","0.15","0.20","0.25"],"range":[[2,3.3],[6,2.4,1.5,2.4,1.5,2.4],[6.5,3.5],[12,3,3,3],[1,0]]},"legend":{"orient":"none","legendX":14,"legendY":126,"title":null,"symbolType":"stroke","symbolSize":1100,"clipHeight":22,"labelFontSize":18,"labelFont":"Liberation Serif, DejaVu Serif","labelExpr":"'𝑘 = ' + datum.label","rowPadding":4,"labelOffset":18,"padding":0}},
"strokeWidth":{"field":"k","type":"ordinal","scale":{"type":"ordinal","domain":["0","0.10","0.15","0.20","0.25"],"range":[2,1.5,2,3,3.5]},"legend":{"orient":"none","legendX":14,"legendY":126,"title":null,"symbolType":"stroke","symbolSize":1100,"clipHeight":22,"labelFontSize":18,"labelFont":"Liberation Serif, DejaVu Serif","labelExpr":"'𝑘 = ' + datum.label","rowPadding":4,"labelOffset":18,"padding":0}},
"order":{"field":"i","type":"quantitative"}}},
{"data":{"name":"M"},"transform":[{"filter":"datum.p=='d' && datum.m=='s'"}],"mark":{"type":"point","shape":"M0,-1L0.235,-0.324L0.951,-0.309L0.38,0.124L0.588,0.809L0,0.4L-0.588,0.809L-0.38,0.124L-0.951,-0.309L-0.235,-0.324Z","filled":true,"size":200,"opacity":1},
"encoding":{"x":{"field":"x","type":"quantitative","scale":{"domain":[0.111,1.889],"reverse":true,"nice":false,"zero":false},"axis":{"orient":"bottom","values":[0.2,0.3,0.4,0.5,0.6,0.7,0.8,0.9,1.0,1.1,1.2,1.3,1.4,1.5,1.6,1.7,1.8],"labels":false,"tickSize":-2.5,"title":null}},
"y":{"field":"y","type":"quantitative","scale":{"type":"log","domain":[0.126,3.95],"nice":false},"axis":{"orient":"left","values":[0.3,0.5,0.6,0.7,0.8,0.9,3],"labels":false,"tickSize":-2.5,"title":null}},
"color":{"field":"k","type":"ordinal","scale":{"domain":["0","0.10","0.15","0.20","0.25"],"range":["#1f5b98","#7b44d1","#e9c46a","#2a9d8f","#cf4a40"]},"legend":null}}},
{"data":{"name":"M"},"transform":[{"filter":"datum.p=='d' && datum.m=='c'"}],"mark":{"type":"point","shape":"circle","filled":false,"size":70,"strokeWidth":1,"opacity":1},
"encoding":{"x":{"field":"x","type":"quantitative","scale":{"domain":[0.111,1.889],"reverse":true,"nice":false,"zero":false},"axis":{"orient":"top","values":[0.5,1.0,1.5],"labels":false,"tickSize":-5,"title":null}},
"y":{"field":"y","type":"quantitative","scale":{"type":"log","domain":[0.126,3.95],"nice":false},"axis":{"orient":"right","values":[0.2,0.4,1,2],"labels":false,"tickSize":-5,"title":null}},
"color":{"field":"k","type":"ordinal","scale":{"domain":["0","0.10","0.15","0.20","0.25"],"range":["#1f5b98","#7b44d1","#e9c46a","#2a9d8f","#cf4a40"]},"legend":null}}},
{"data":{"name":"M"},"transform":[{"filter":"datum.p=='d' && datum.m=='d'"}],"mark":{"type":"point","shape":"M0,-1L0.62,0L0,1L-0.62,0Z","filled":false,"size":110,"strokeWidth":1,"opacity":1},
"encoding":{"x":{"field":"x","type":"quantitative","scale":{"domain":[0.111,1.889],"reverse":true,"nice":false,"zero":false},"axis":{"orient":"top","values":[0.2,0.3,0.4,0.5,0.6,0.7,0.8,0.9,1.0,1.1,1.2,1.3,1.4,1.5,1.6,1.7,1.8],"labels":false,"tickSize":-2.5,"title":null}},
"y":{"field":"y","type":"quantitative","scale":{"type":"log","domain":[0.126,3.95],"nice":false},"axis":{"orient":"right","values":[0.3,0.5,0.6,0.7,0.8,0.9,3],"labels":false,"tickSize":-2.5,"title":null}},
"color":{"field":"k","type":"ordinal","scale":{"domain":["0","0.10","0.15","0.20","0.25"],"range":["#1f5b98","#7b44d1","#e9c46a","#2a9d8f","#cf4a40"]},"legend":null}}},
{"data":{"values":[{}]},"mark":{"type":"text","fontSize":20,"font":"Liberation Serif","align":"center","baseline":"middle"},
"encoding":{"x":{"datum":0.311,"type":"quantitative","scale":{"domain":[0.111,1.889],"reverse":true,"nice":false,"zero":false},"axis":null},"y":{"datum":2.93,"type":"quantitative","scale":{"type":"log","domain":[0.126,3.95],"nice":false},"axis":null},"text":{"value":"(d)"}}}
]
}
],
"config":{
"font":"Liberation Serif",
"view":{"stroke":"black","strokeWidth":1},
"axis":{"labelFont":"Liberation Serif, DejaVu Serif","titleFont":"Liberation Serif, DejaVu Serif","labelFontSize":19,"titleFontSize":22,"titleFontWeight":"normal","labelColor":"black","titleColor":"black","tickColor":"black","tickWidth":1,"grid":false,"domain":false,"labelFlush":false,"labelOverlap":false},
"legend":{"labelColor":"black"}
}
}
